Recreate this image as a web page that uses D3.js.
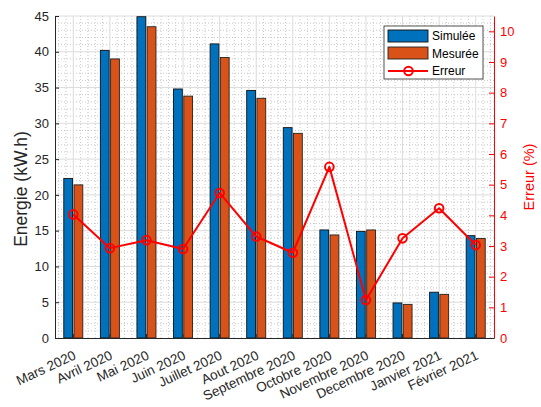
<!DOCTYPE html>
<html>
<head>
<meta charset="utf-8">
<script src="https://cdn.jsdelivr.net/npm/d3@7"></script>
<style>
  html, body { margin: 0; padding: 0; background: #fff; }
  svg { display: block; font-family: "Liberation Sans", Arial, Helvetica, sans-serif; }
</style>
</head>
<body>
<svg id="chart" width="541" height="407"></svg>
<script>
// Monthly energy: simulated vs measured, with relative error (%)
const months = ["Mars 2020", "Avril 2020", "Mai 2020", "Juin 2020", "Juillet 2020", "Aout 2020",
  "Septembre 2020", "Octobre 2020", "Novembre 2020", "Decembre 2020", "Janvier 2021", "Février 2021"];
const simulee = [22.3, 40.2, 44.9, 34.8, 41.1, 34.6, 29.4, 15.1, 14.9, 4.9, 6.4, 14.3];
const mesuree = [21.4, 39.0, 43.5, 33.8, 39.2, 33.5, 28.6, 14.4, 15.1, 4.7, 6.1, 13.9];
const erreur = [4.03, 2.93, 3.19, 2.90, 4.73, 3.31, 2.78, 5.58, 1.24, 3.25, 4.23, 3.03];
const leftTicks = [0, 5, 10, 15, 20, 25, 30, 35, 40, 45];
const rightTicks = [0, 1, 2, 3, 4, 5, 6, 7, 8, 9, 10];
const seriesNames = ["Simulée", "Mesurée", "Erreur"];

const colBlue = "#0072BD", colOrange = "#D95319", colRed = "#FF0000", colAxis = "#262626";

const svg = d3.select("#chart");
const L = 55, R = 494, T = 16, B = 338;

const x = d3.scaleBand().domain(months).range([L, R]).padding(0);
const bw = x.bandwidth();
const cx = m => x(m) + bw / 2;
const yL = d3.scaleLinear().domain([0, 45]).range([B, T]);
const yR = d3.scaleLinear().domain([0, 10.5]).range([B, T]);

// grid: minor dotted, then major solid
const grid = svg.append("g");
const minorY = d3.range(0, 45.01, 1).filter(v => v % 5 !== 0);
grid.selectAll(".mh").data(minorY).join("line")
  .attr("x1", L).attr("x2", R).attr("y1", d => yL(d)).attr("y2", d => yL(d))
  .attr("stroke", "#c8c8c8").attr("stroke-width", 1).attr("stroke-dasharray", "1,2");
const minorX = [];
months.forEach(m => { for (let k = -2; k <= 2; k++) if (k !== 0) minorX.push(cx(m) + k * bw / 5); });
grid.selectAll(".mv").data(minorX.filter(v => v > L && v < R)).join("line")
  .attr("x1", d => d).attr("x2", d => d).attr("y1", T).attr("y2", B)
  .attr("stroke", "#c8c8c8").attr("stroke-width", 1).attr("stroke-dasharray", "1,2");
grid.selectAll(".gh").data(leftTicks.slice(1)).join("line")
  .attr("x1", L).attr("x2", R).attr("y1", d => yL(d)).attr("y2", d => yL(d))
  .attr("stroke", "#dcdcdc").attr("stroke-width", 1);
grid.selectAll(".gv").data(months).join("line")
  .attr("x1", d => cx(d)).attr("x2", d => cx(d)).attr("y1", T).attr("y2", B)
  .attr("stroke", "#dcdcdc").attr("stroke-width", 1);

// bars
const barW = bw * 0.24, off = bw * 0.14;
svg.append("g").selectAll("rect").data(months).join("rect")
  .attr("x", d => cx(d) - off - barW / 2).attr("width", barW)
  .attr("y", (d, i) => yL(simulee[i])).attr("height", (d, i) => B - yL(simulee[i]))
  .attr("fill", colBlue).attr("stroke", "#111").attr("stroke-width", 0.9);
svg.append("g").selectAll("rect").data(months).join("rect")
  .attr("x", d => cx(d) + off - barW / 2).attr("width", barW)
  .attr("y", (d, i) => yL(mesuree[i])).attr("height", (d, i) => B - yL(mesuree[i]))
  .attr("fill", colOrange).attr("stroke", "#222").attr("stroke-width", 0.9);

// left axis
const axL = svg.append("g").attr("transform", `translate(${L},0)`)
  .call(d3.axisLeft(yL).tickValues(leftTicks).tickSizeInner(-4).tickSizeOuter(0).tickPadding(6));
axL.select(".domain").attr("stroke", colAxis);
axL.selectAll(".tick line").attr("stroke", colAxis);
axL.selectAll(".tick text").attr("fill", colAxis).style("font-size", "13px").attr("font-family", null);

// right axis
const axR = svg.append("g").attr("transform", `translate(${R},0)`)
  .call(d3.axisRight(yR).tickValues(rightTicks).tickSizeInner(-5).tickSizeOuter(0).tickPadding(6));
axR.select(".domain").attr("stroke", colRed);
axR.selectAll(".tick line").attr("stroke", colRed);
axR.selectAll(".tick text").attr("fill", colRed).style("font-size", "13px").attr("font-family", null);

// bottom axis with slanted month labels
const axB = svg.append("g").attr("transform", `translate(0,${B})`)
  .call(d3.axisBottom(x).tickSizeInner(-4).tickSizeOuter(0).tickPadding(0));
axB.select(".domain").attr("stroke", colAxis);
axB.selectAll(".tick line").attr("stroke", colAxis);
axB.selectAll(".tick text")
  .attr("fill", colAxis).style("font-size", "13.5px").attr("font-family", null)
  .attr("text-anchor", "end").attr("dy", null).attr("y", null)
  .attr("transform", "translate(3.5,20.5) rotate(-25)");

// axis titles
svg.append("text").attr("transform", "translate(27,189) rotate(-90)")
  .attr("text-anchor", "middle").attr("fill", colAxis).style("font-size", "17.5px")
  .text("Energie (kW.h)");
svg.append("text").attr("transform", `translate(534,${(T + B) / 2}) rotate(-90)`)
  .attr("text-anchor", "middle").attr("fill", colRed).style("font-size", "14.5px")
  .text("Erreur (%)");

// error line
const line = d3.line().x((d, i) => cx(months[i])).y(d => yR(d));
svg.append("path").datum(erreur).attr("d", line)
  .attr("fill", "none").attr("stroke", colRed).attr("stroke-width", 2).attr("stroke-linejoin", "round");
svg.append("g").selectAll("circle").data(erreur).join("circle")
  .attr("cx", (d, i) => cx(months[i])).attr("cy", d => yR(d)).attr("r", 4.3)
  .attr("fill", "none").attr("stroke", colRed).attr("stroke-width", 2);

// legend
const lg = svg.append("g").attr("transform", "translate(384,26)");
lg.append("rect").attr("width", 99).attr("height", 53).attr("fill", "#fff")
  .attr("stroke", colAxis).attr("stroke-width", 0.8);
lg.append("rect").attr("x", 4).attr("y", 4).attr("width", 40).attr("height", 12)
  .attr("fill", colBlue).attr("stroke", "#111").attr("stroke-width", 0.9);
lg.append("rect").attr("x", 4).attr("y", 21).attr("width", 40).attr("height", 12)
  .attr("fill", colOrange).attr("stroke", "#222").attr("stroke-width", 0.9);
lg.append("line").attr("x1", 4).attr("x2", 44).attr("y1", 45).attr("y2", 45)
  .attr("stroke", colRed).attr("stroke-width", 2);
lg.append("circle").attr("cx", 24.5).attr("cy", 45).attr("r", 4.3)
  .attr("fill", "none").attr("stroke", colRed).attr("stroke-width", 2);
lg.selectAll("text.lbl").data(seriesNames).join("text")
  .attr("x", 48).attr("y", (d, i) => 10 + i * 17.3).attr("dy", "0.35em")
  .attr("fill", "#000").style("font-size", "12px").text(d => d);
</script>
</body>
</html>
